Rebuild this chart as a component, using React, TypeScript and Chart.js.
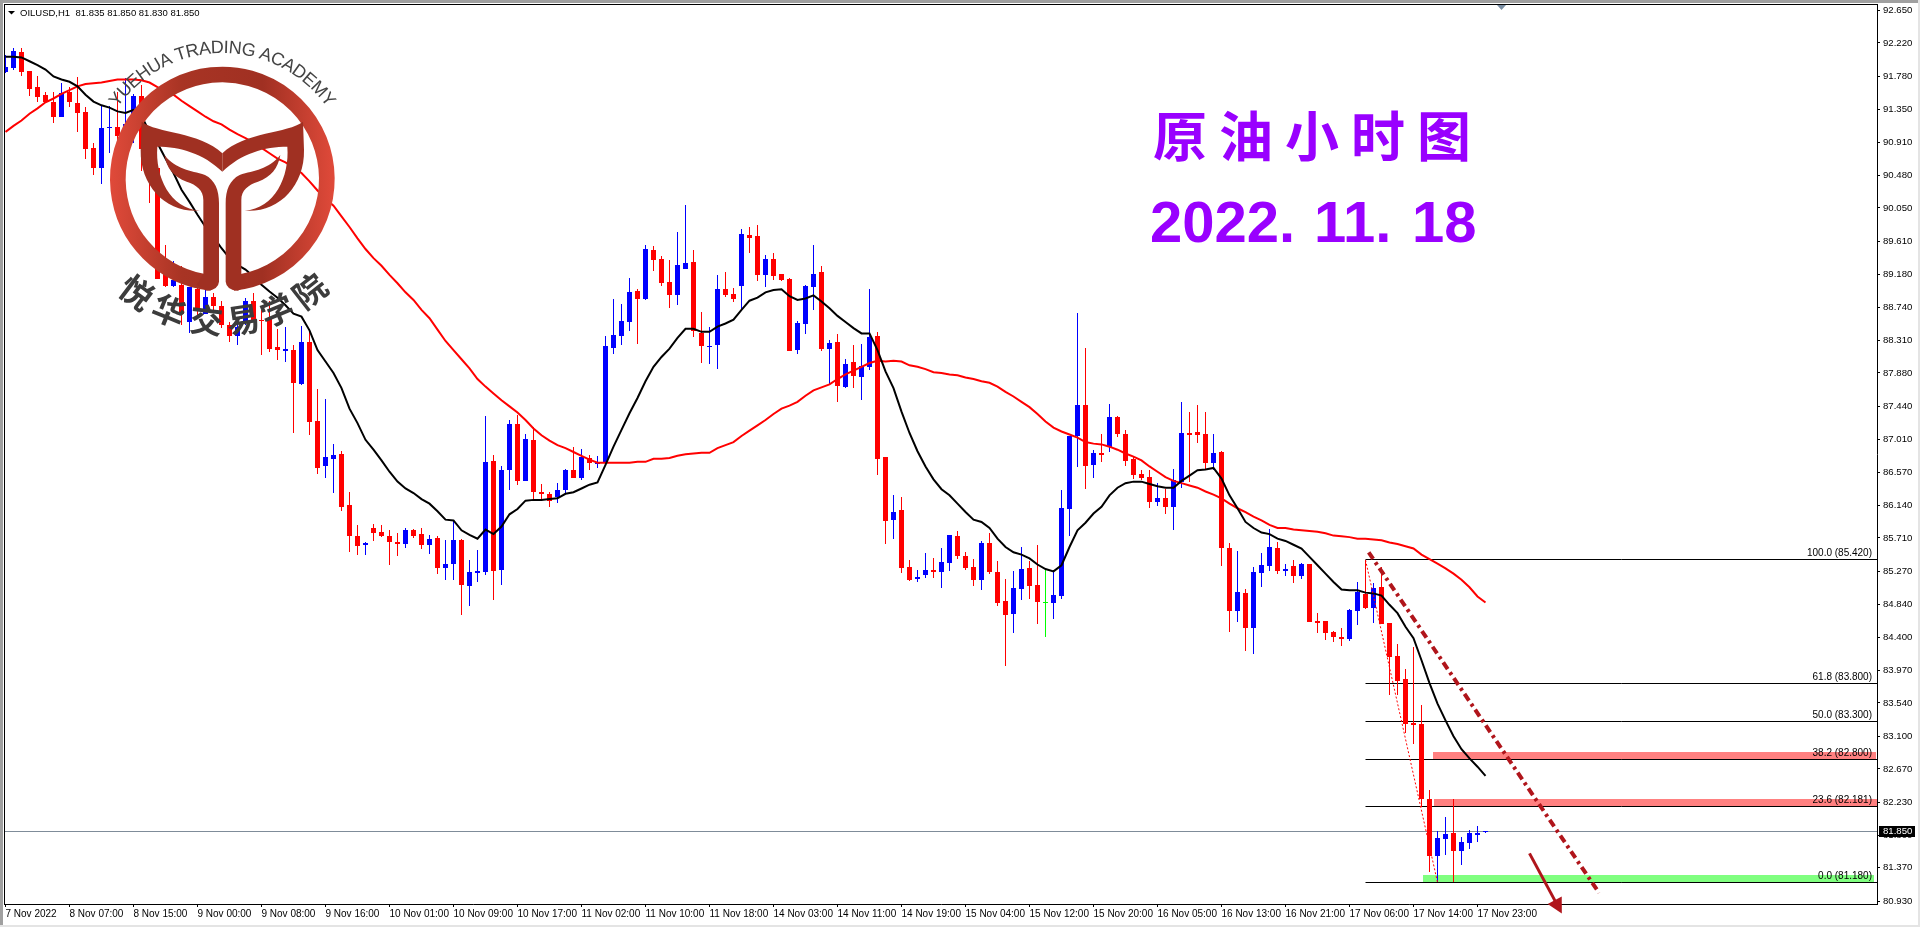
import React, { useEffect, useRef } from "react";
import { Chart, registerables } from "chart.js";

Chart.register(...registerables);

const opens = [
  91.84,91.89,92.10,91.85,91.64,91.54,91.45,91.25,91.57,91.43,
  91.31,90.84,90.58,91.10,91.12,90.92,91.27,91.52,90.83,90.57,
  89.30,89.02,89.04,88.55,88.98,88.66,88.88,88.76,88.51,88.36,
  88.55,88.83,88.58,88.60,88.22,88.17,88.18,87.73,88.29,87.25,
  86.65,86.75,86.81,86.14,85.74,85.61,85.84,85.79,85.74,85.66,
  85.63,85.81,85.76,85.61,85.71,85.31,85.37,85.68,85.08,85.25,
  85.26,86.72,85.29,86.60,87.21,86.46,87.00,86.31,86.29,86.25,
  86.34,86.60,86.50,86.76,86.69,86.70,88.21,88.37,88.55,88.96,
  88.85,89.50,89.38,89.08,88.91,89.25,89.34,88.41,88.23,88.25,
  88.99,88.92,89.02,89.70,89.68,89.17,89.38,89.18,89.12,88.18,
  88.52,89.01,89.21,88.20,88.29,87.70,88.02,87.83,87.96,88.37,
  86.77,85.95,86.08,85.33,85.17,85.22,85.29,85.26,85.38,85.73,
  85.47,85.33,85.16,85.64,85.26,84.88,84.71,85.04,85.31,85.09,
  84.86,84.85,84.95,86.09,87.05,87.46,86.67,86.83,86.91,87.30,
  87.08,86.75,86.55,86.51,86.18,86.23,86.12,86.44,87.09,87.10,
  87.08,86.70,86.84,85.58,84.75,84.99,84.52,85.25,85.34,85.58,
  85.27,85.34,85.21,85.37,84.62,84.62,84.47,84.41,84.38,84.75,
  84.97,84.79,85.06,84.59,84.16,83.85,83.27,83.26,82.28,81.53,
  81.75,81.83,81.59,81.70,81.80,81.835,
];
const highs = [
  92.06,92.15,92.15,91.85,91.79,91.57,91.57,91.69,91.64,91.77,
  91.38,90.91,91.39,91.39,91.57,91.76,91.55,91.67,90.86,90.57,
  89.56,89.35,89.29,89.01,89.01,88.97,88.93,88.82,88.55,88.62,
  88.87,88.93,88.71,88.82,88.46,88.48,88.25,88.50,88.42,87.67,
  87.54,86.94,86.85,86.31,85.88,85.65,85.89,85.88,85.81,85.77,
  85.84,85.83,85.84,85.75,85.74,85.68,85.95,85.70,85.42,85.55,
  87.31,86.80,86.66,87.26,87.33,87.08,87.17,86.42,86.31,86.43,
  86.62,86.91,86.88,86.80,86.79,88.37,88.85,88.79,89.13,88.99,
  89.56,89.55,89.42,89.37,89.73,90.09,89.50,88.68,88.49,89.17,
  89.21,89.00,89.77,89.80,89.83,89.43,89.46,89.18,89.13,88.56,
  89.04,89.56,89.29,88.31,88.39,88.06,88.25,88.26,88.99,88.42,
  86.78,86.27,86.25,85.42,85.29,85.51,85.45,85.58,85.75,85.80,
  85.52,85.43,85.67,85.77,85.41,85.17,85.27,85.59,85.41,85.62,
  85.30,85.29,86.34,87.05,88.67,88.21,86.87,87.08,87.47,87.31,
  87.13,86.79,86.60,86.60,86.43,86.35,86.62,87.50,87.37,87.46,
  87.37,87.08,86.85,85.64,85.54,85.04,85.33,85.51,85.83,85.66,
  85.37,85.42,85.38,85.37,84.72,84.62,84.49,84.52,84.78,85.13,
  85.42,85.12,85.33,84.59,84.32,83.99,84.27,83.51,82.39,81.85,
  82.04,82.28,81.78,81.87,81.92,81.85,
];
const lows = [
  91.83,91.87,91.79,91.52,91.44,91.43,91.17,91.24,91.38,91.05,
  90.70,90.48,90.36,90.77,90.84,90.86,90.90,90.53,90.12,89.12,
  89.01,89.01,88.51,88.40,88.64,88.66,88.71,88.47,88.29,88.25,
  88.51,88.55,88.12,88.16,88.05,88.02,87.09,87.72,87.06,86.55,
  86.50,86.30,86.07,85.53,85.49,85.49,85.67,85.72,85.35,85.47,
  85.58,85.71,85.56,85.50,85.24,85.15,85.15,84.70,84.81,85.13,
  85.22,84.89,85.09,86.34,86.40,86.46,86.21,86.19,86.11,86.17,
  86.30,86.50,86.47,86.60,86.63,86.70,88.13,88.25,88.43,88.26,
  88.84,89.22,89.02,88.74,88.77,89.25,88.35,88.01,88.00,87.93,
  88.88,88.81,88.71,89.46,89.09,89.01,89.10,89.09,88.17,88.13,
  88.39,88.71,88.17,87.74,87.50,87.68,87.68,87.52,87.92,86.54,
  85.63,85.70,85.25,85.14,85.13,85.18,85.18,85.05,85.27,85.43,
  85.29,85.08,85.02,85.24,84.81,84.02,84.46,84.89,84.91,84.58,
  84.41,84.64,84.91,85.73,86.64,86.35,86.50,86.71,86.84,87.04,
  86.66,86.49,86.47,86.10,86.13,86.02,85.81,86.37,86.45,86.96,
  86.60,86.60,85.34,84.47,84.60,84.22,84.18,85.06,85.27,85.23,
  85.21,85.12,85.17,84.60,84.46,84.37,84.34,84.29,84.35,84.56,
  84.77,84.59,84.58,83.64,83.64,83.14,83.00,82.17,81.32,81.18,
  81.54,81.18,81.41,81.62,81.71,81.83,
];
const closes = [
  91.91,92.11,91.84,91.62,91.51,91.45,91.25,91.56,91.44,91.30,
  90.83,90.58,91.10,91.11,91.00,91.15,91.52,90.83,90.57,89.12,
  89.03,89.10,88.66,89.01,88.69,88.88,88.76,88.51,88.36,88.49,
  88.82,88.58,88.56,88.20,88.18,88.19,87.75,88.29,87.24,86.63,
  86.77,86.80,86.12,85.74,85.60,85.64,85.78,85.73,85.65,85.63,
  85.81,85.74,85.61,85.70,85.31,85.37,85.68,85.09,85.26,85.28,
  86.71,85.27,86.60,87.21,86.46,87.01,86.31,86.29,86.19,86.34,
  86.60,86.50,86.78,86.69,86.70,88.23,88.38,88.56,88.95,88.85,
  89.51,89.37,89.06,88.91,89.30,89.33,88.43,88.24,88.24,88.99,
  88.91,88.85,89.71,89.66,89.17,89.38,89.16,89.10,88.17,88.54,
  89.02,89.18,88.20,88.27,87.71,88.00,87.84,87.97,88.35,86.75,
  85.93,86.05,85.31,85.16,85.20,85.29,85.26,85.39,85.75,85.47,
  85.31,85.16,85.64,85.26,84.85,84.70,85.05,85.30,85.08,84.87,
  84.87,84.96,86.10,87.05,87.46,86.66,86.83,86.80,87.30,87.08,
  86.72,86.54,86.50,86.18,86.23,86.12,86.47,87.09,87.06,87.06,
  86.70,86.83,85.58,84.75,85.00,84.52,85.26,85.35,85.59,85.27,
  85.30,85.21,85.37,84.60,84.59,84.46,84.41,84.38,84.76,85.00,
  84.79,85.05,84.58,84.14,83.83,83.26,83.25,82.28,81.53,81.76,
  81.81,81.59,81.71,81.83,81.83,81.85,
];
const fastMA = [
  92.04,92.04,92.03,91.98,91.93,91.87,91.78,91.74,91.71,91.65,
  91.54,91.45,91.40,91.37,91.32,91.30,91.34,91.26,91.05,90.90,
  90.70,90.51,90.29,90.13,89.96,89.80,89.67,89.52,89.39,89.30,
  89.24,89.15,89.04,88.95,88.87,88.77,88.66,88.62,88.44,88.18,
  88.03,87.88,87.68,87.41,87.22,87.00,86.87,86.73,86.58,86.45,
  86.36,86.30,86.22,86.16,86.06,85.95,85.94,85.81,85.75,85.70,
  85.82,85.76,85.86,86.02,86.09,86.20,86.21,86.21,86.22,86.23,
  86.29,86.31,86.36,86.41,86.44,86.67,86.91,87.13,87.35,87.55,
  87.77,87.96,88.09,88.20,88.34,88.46,88.46,88.42,88.42,88.49,
  88.53,88.58,88.71,88.83,88.87,88.94,88.97,88.98,88.89,88.84,
  88.86,88.90,88.82,88.73,88.63,88.55,88.47,88.40,88.40,88.18,
  87.90,87.68,87.37,87.09,86.85,86.65,86.48,86.35,86.27,86.16,
  86.05,85.95,85.92,85.84,85.70,85.59,85.52,85.49,85.44,85.36,
  85.30,85.27,85.35,85.59,85.81,85.91,86.03,86.12,86.27,86.37,
  86.43,86.45,86.45,86.42,86.39,86.37,86.37,86.46,86.53,86.60,
  86.61,86.63,86.49,86.27,86.10,85.92,85.84,85.78,85.76,85.70,
  85.67,85.62,85.57,85.46,85.35,85.24,85.13,85.03,85.02,85.02,
  84.99,84.98,84.95,84.83,84.72,84.54,84.39,84.10,83.80,83.53,
  83.31,83.10,82.93,82.81,82.70,82.58,
];
const slowMA = [
  91.05,91.13,91.20,91.29,91.36,91.44,91.49,91.55,91.60,91.65,
  91.68,91.69,91.70,91.72,91.74,91.74,91.74,91.73,91.70,91.64,
  91.59,91.54,91.46,91.39,91.32,91.25,91.19,91.15,91.08,91.02,
  90.97,90.91,90.84,90.77,90.70,90.65,90.58,90.51,90.40,90.28,
  90.17,90.08,89.94,89.80,89.65,89.51,89.39,89.29,89.17,89.06,
  88.94,88.84,88.71,88.60,88.45,88.30,88.18,88.06,87.94,87.80,
  87.70,87.61,87.52,87.44,87.36,87.26,87.15,87.06,86.99,86.93,
  86.89,86.84,86.79,86.74,86.70,86.70,86.70,86.70,86.70,86.71,
  86.71,86.75,86.75,86.76,86.79,86.81,86.82,86.83,86.83,86.89,
  86.93,86.97,87.05,87.12,87.19,87.26,87.34,87.41,87.45,87.50,
  87.58,87.65,87.69,87.73,87.80,87.86,87.91,87.96,88.01,88.04,
  88.03,88.04,88.03,87.98,87.96,87.93,87.89,87.88,87.86,87.85,
  87.82,87.80,87.77,87.75,87.70,87.63,87.57,87.50,87.43,87.34,
  87.24,87.16,87.11,87.07,87.03,86.97,86.95,86.94,86.91,86.87,
  86.82,86.78,86.73,86.65,86.58,86.51,86.46,86.43,86.40,86.37,
  86.32,86.28,86.23,86.16,86.10,86.05,85.99,85.94,85.88,85.84,
  85.84,85.82,85.81,85.80,85.79,85.77,85.74,85.73,85.72,85.70,
  85.70,85.69,85.68,85.65,85.63,85.60,85.57,85.49,85.43,85.37,
  85.31,85.24,85.16,85.06,84.94,84.86,
];
const greenBars = [130];

const timeLabels = [
  "7 Nov 2022","8 Nov 07:00","8 Nov 15:00","9 Nov 00:00","9 Nov 08:00","9 Nov 16:00",
  "10 Nov 01:00","10 Nov 09:00","10 Nov 17:00","11 Nov 02:00","11 Nov 10:00","11 Nov 18:00",
  "14 Nov 03:00","14 Nov 11:00","14 Nov 19:00","15 Nov 04:00","15 Nov 12:00","15 Nov 20:00",
  "16 Nov 05:00","16 Nov 13:00","16 Nov 21:00","17 Nov 06:00","17 Nov 14:00","17 Nov 23:00",
];
const priceTicks = [
  92.65,92.22,91.78,91.35,90.91,90.48,90.05,89.61,89.18,88.74,88.31,87.88,87.44,87.01,
  86.57,86.14,85.71,85.27,84.84,84.40,83.97,83.54,83.10,82.67,82.23,81.80,81.37,80.93,
];
const fibPercents = ["100.0","61.8","50.0","38.2","23.6","0.0"];
const fibPrices = [85.42,83.8,83.3,82.8,82.181,81.18];
const fibStartBar = 170;
const lastPrice = 81.85;

const dottedTrendBars = [170,179];
const dottedTrendPrices = [85.42,81.18];
const channelBars = [170.4,199.2];
const channelPrices = [85.52,81.04];
const arrowBars = [190.5,194.54];
const arrowPrices = [81.56,80.77];

const zoneStartBars = [178.46,178.58,177.2];
const zoneEndBars = [233.8,233.94,233.56];
const zoneTopPrices = [82.9,82.28,81.28];
const zoneBottomPrices = [82.79,82.18,81.17];
const zoneColors = ["#ff8080","#ff8080","#80ff80"];

const header = "OILUSD,H1  81.835 81.850 81.830 81.850";
const titleCn = "原油小时图";
const titleDateParts = ["2022.","11.","18"];
const logoEn = "YUEHUA TRADING ACADEMY";
const logoCn = ["悦","华","交","易","学","院"];
const logoCnAngles = [37,22,6.5,-8.5,-22.5,-38];

const BLUE = "#0000ff", RED = "#ff0000", GREEN = "#00ff00", FIRE = "#b0151b";
const UI_FONT = '"Liberation Sans", Arial, sans-serif';

const barColor = (i: number) =>
  greenBars.includes(i) ? GREEN : closes[i] >= opens[i] ? BLUE : RED;

function drawLogo(ctx: CanvasRenderingContext2D) {
  ctx.save();
  ctx.scale(1 / 3, 1 / 3);
  const cx = 667, cy = 537;
  const g = ctx.createLinearGradient(330, 0, 1004, 0);
  g.addColorStop(0, "#e04a3a");
  g.addColorStop(0.32, "#a83424");
  g.addColorStop(0.68, "#a03022");
  g.addColorStop(1, "#e04a3a");
  ctx.strokeStyle = g;
  ctx.fillStyle = g;
  ctx.lineWidth = 47;
  ctx.beginPath();
  ctx.arc(cx, cy, 313.5, (84 * Math.PI) / 180, (96 * Math.PI) / 180, true);
  ctx.stroke();
  const half = () => {
    ctx.beginPath();
    ctx.moveTo(425, 365);
    ctx.bezierCurveTo(470, 400, 600, 395, 667, 460);
    ctx.lineTo(667, 515);
    ctx.bezierCurveTo(610, 460, 540, 440, 472, 440);
    ctx.bezierCurveTo(465, 530, 510, 625, 600, 632);
    ctx.bezierCurveTo(500, 640, 420, 560, 422, 450);
    ctx.closePath();
    ctx.fill();
    ctx.beginPath();
    ctx.moveTo(493, 465);
    ctx.bezierCurveTo(530, 510, 570, 510, 615, 525);
    ctx.bezierCurveTo(645, 540, 657, 570, 657, 610);
    ctx.lineTo(657, 845);
    ctx.quadraticCurveTo(655, 870, 620, 872);
    ctx.lineTo(590, 855);
    ctx.lineTo(610, 822);
    ctx.lineTo(610, 600);
    ctx.bezierCurveTo(610, 570, 590, 555, 560, 545);
    ctx.bezierCurveTo(520, 530, 500, 505, 493, 465);
    ctx.closePath();
    ctx.fill();
  };
  ctx.fillStyle = "#a03022";
  half();
  ctx.save();
  ctx.translate(2 * cx, 0);
  ctx.scale(-1, 1);
  half();
  ctx.restore();
  ctx.restore();

  ctx.save();
  const c0x = 222.3, c0y = 181;
  ctx.fillStyle = "#444444";
  ctx.font = `18px ${UI_FONT}`;
  ctx.textAlign = "center";
  ctx.textBaseline = "alphabetic";
  const widths = [...logoEn].map((ch) => ctx.measureText(ch).width);
  const total = widths.reduce((a, b) => a + b, 0);
  const arcSpan = (110 * Math.PI) / 180;
  const radius = 128;
  const extra = (arcSpan * radius - total) / (logoEn.length - 1);
  let run = -(arcSpan * radius) / 2;
  [...logoEn].forEach((ch, k) => {
    const a = (run + widths[k] / 2) / radius;
    ctx.save();
    ctx.translate(c0x + radius * Math.sin(a), c0y - radius * Math.cos(a));
    ctx.rotate(a);
    ctx.fillText(ch, 0, 0);
    ctx.restore();
    run += widths[k] + extra;
  });
  ctx.font = 'bold 33px "Noto Sans CJK SC", sans-serif';
  ctx.textBaseline = "middle";
  ctx.fillStyle = "#3c3c3c";
  logoCn.forEach((ch, k) => {
    const a = (logoCnAngles[k] * Math.PI) / 180;
    ctx.save();
    ctx.translate(222.3 - 142 * Math.sin(a), 179 + 142 * Math.cos(a));
    ctx.rotate(a);
    ctx.fillText(ch, 0, 0);
    ctx.restore();
  });
  ctx.restore();
}

const decorPlugin = {
  id: "decor",
  beforeDatasetsDraw(chart: any) {
    const { ctx, scales } = chart;
    const { x, y } = scales;
    // zones
    zoneColors.forEach((col, k) => {
      const l = Math.round(x.getPixelForValue(zoneStartBars[k]));
      const r = Math.round(x.getPixelForValue(zoneEndBars[k]));
      const t = Math.round(y.getPixelForValue(zoneTopPrices[k]));
      const b = Math.round(y.getPixelForValue(zoneBottomPrices[k]));
      ctx.fillStyle = col;
      ctx.fillRect(l, t, r - l, b - t);
    });
    // pixel-snap marks, as the terminal draws them
    chart.data.datasets.forEach((ds: any, di: number) => {
      const meta = chart.getDatasetMeta(di);
      if (ds.snapLine) {
        meta.data.forEach((pt: any) => {
          pt.y = Math.floor(pt.y) + 0.5;
        });
      } else if (ds.type !== "line") {
        meta.data.forEach((el: any) => {
          const top = Math.round(Math.min(el.y, el.base));
          let bot = Math.round(Math.max(el.y, el.base));
          if (bot <= top) bot = top + 1;
          el.y = top;
          el.base = bot;
          el.height = bot - top;
        });
      }
    });
  },
  afterDraw(chart: any) {
    const { ctx, scales } = chart;
    const { x, y } = scales;
    const W = chart.width, H = chart.height;
    ctx.save();
    // window frame
    ctx.fillStyle = "#a0a0a0";
    ctx.fillRect(0, 0, W, 3);
    ctx.fillRect(0, 0, 3, H);
    ctx.fillStyle = "#e4e4e4";
    ctx.fillRect(0, H - 2, W, 2);
    ctx.fillRect(W - 2, 0, 2, H);
    ctx.fillStyle = "#000";
    ctx.fillRect(4, 4, 1874, 1);
    ctx.fillRect(4, 4, 1, 901);
    // header
    ctx.beginPath();
    ctx.moveTo(8, 11);
    ctx.lineTo(15, 11);
    ctx.lineTo(11.5, 14.5);
    ctx.closePath();
    ctx.fill();
    ctx.font = `9.5px ${UI_FONT}`;
    ctx.textAlign = "left";
    ctx.textBaseline = "alphabetic";
    ctx.fillText(header, 20, 16);
    // scroll marker
    ctx.fillStyle = "#7a8ea3";
    ctx.beginPath();
    ctx.moveTo(1497, 5);
    ctx.lineTo(1506, 5);
    ctx.lineTo(1501.5, 10);
    ctx.closePath();
    ctx.fill();
    // fib labels
    ctx.fillStyle = "#000";
    ctx.font = `10px ${UI_FONT}`;
    ctx.textAlign = "right";
    ctx.textBaseline = "middle";
    fibPrices.forEach((p, k) => {
      const txt = `${fibPercents[k]} (${p.toFixed(3)})`;
      ctx.fillText(txt, 1872, Math.floor(y.getPixelForValue(p)) - 6);
    });
    // last price box
    const ly = y.getPixelForValue(lastPrice);
    ctx.fillStyle = "#000";
    ctx.fillRect(1879, Math.round(ly) - 5, 36, 11);
    ctx.fillStyle = "#fff";
    ctx.font = `9.6px ${UI_FONT}`;
    ctx.textAlign = "left";
    ctx.fillText(lastPrice.toFixed(3), 1883, Math.round(ly) + 0.5);
    // arrow
    const ax0 = x.getPixelForValue(arrowBars[0]), ay0 = y.getPixelForValue(arrowPrices[0]);
    const ax1 = x.getPixelForValue(arrowBars[1]), ay1 = y.getPixelForValue(arrowPrices[1]);
    const ang = Math.atan2(ay1 - ay0, ax1 - ax0);
    ctx.strokeStyle = FIRE;
    ctx.fillStyle = FIRE;
    ctx.lineWidth = 3;
    ctx.beginPath();
    ctx.moveTo(ax0, ay0);
    ctx.lineTo(ax1 - 10 * Math.cos(ang), ay1 - 10 * Math.sin(ang));
    ctx.stroke();
    ctx.beginPath();
    ctx.moveTo(ax1, ay1);
    ctx.lineTo(ax1 - 15 * Math.cos(ang) + 8 * Math.sin(ang), ay1 - 15 * Math.sin(ang) - 8 * Math.cos(ang));
    ctx.lineTo(ax1 - 15 * Math.cos(ang) - 8 * Math.sin(ang), ay1 - 15 * Math.sin(ang) + 8 * Math.cos(ang));
    ctx.closePath();
    ctx.fill();
    // title
    ctx.fillStyle = "#9900ff";
    ctx.textAlign = "left";
    ctx.textBaseline = "alphabetic";
    ctx.font = 'bold 54px "Noto Sans CJK SC", sans-serif';
    (ctx as any).letterSpacing = "12px";
    ctx.fillText(titleCn, 1153, 157);
    (ctx as any).letterSpacing = "0px";
    ctx.font = `bold 58px ${UI_FONT}`;
    ctx.fillText(titleDateParts[0], 1150, 242);
    ctx.fillText(titleDateParts[1], 1314, 242);
    ctx.fillText(titleDateParts[2], 1412, 242);
    ctx.restore();
    drawLogo(ctx);
  },
};

export default function App() {
  const ref = useRef<HTMLCanvasElement | null>(null);
  useEffect(() => {
    document.body.style.margin = "0";
    if (!ref.current) return;
    const xyFrom = (xs: number[], ys: number[]) => xs.map((v, k) => ({ x: v, y: ys[k] }));
    const XMIN = -0.0625, XMAX = 233.9375;
    const datasets: any[] = [
      {
        type: "bar",
        label: "wick",
        order: 6,
        grouped: false,
        barThickness: 1,
        inflateAmount: 0,
        borderWidth: 0,
        backgroundColor: highs.map((_, i) => barColor(i)),
        data: highs.map((h, i) => ({ x: i, y: [lows[i], h] })),
      },
      {
        type: "bar",
        label: "body",
        order: 5,
        grouped: false,
        barThickness: 5,
        inflateAmount: 0,
        borderWidth: 0,
        backgroundColor: opens.map((_, i) => barColor(i)),
        data: opens.map((o, i) => ({ x: i, y: [o, closes[i]] })),
      },
      {
        type: "line",
        label: "MA fast",
        order: 2,
        borderColor: "#000000",
        borderWidth: 2,
        pointRadius: 0,
        data: fastMA.map((v, i) => ({ x: i, y: v })),
      },
      {
        type: "line",
        label: "MA slow",
        order: 3,
        borderColor: RED,
        borderWidth: 2,
        pointRadius: 0,
        data: slowMA.map((v, i) => ({ x: i, y: v })),
      },
      {
        type: "line",
        label: "Last",
        order: 9,
        snapLine: true,
        borderColor: "#7f8c99",
        borderWidth: 1,
        pointRadius: 0,
        data: [{ x: XMIN, y: lastPrice }, { x: XMAX, y: lastPrice }],
      },
      ...fibPrices.map((p, k) => ({
        type: "line",
        label: `Fib ${fibPercents[k]}`,
        order: 8,
        snapLine: true,
        borderColor: "#000000",
        borderWidth: 1,
        pointRadius: 0,
        data: [{ x: fibStartBar, y: p }, { x: XMAX, y: p }],
      })),
      {
        type: "line",
        label: "Fib trend",
        order: 1,
        borderColor: RED,
        borderWidth: 1,
        borderDash: [2, 2],
        pointRadius: 0,
        data: xyFrom(dottedTrendBars, dottedTrendPrices),
      },
      {
        type: "line",
        label: "Channel",
        order: 0,
        borderColor: FIRE,
        borderWidth: 4,
        borderDash: [8, 4, 3, 4],
        pointRadius: 0,
        data: xyFrom(channelBars, channelPrices),
      },
    ];
    const chart = new Chart(ref.current, {
      type: "bar",
      data: { datasets },
      plugins: [decorPlugin],
      options: {
        animation: false,
        responsive: false,
        devicePixelRatio: 1,
        events: [],
        layout: { padding: { left: 5, top: 4, right: 0, bottom: 0 } },
        plugins: { legend: { display: false }, tooltip: { enabled: false }, title: { display: false } },
        scales: {
          x: {
            type: "linear",
            offset: false,
            min: XMIN,
            max: XMAX,
            grid: { offset: false, drawOnChartArea: false, tickLength: 3, tickColor: "#000", drawTicks: true },
            border: { display: true, color: "#000", width: 1 },
            afterBuildTicks: (s: any) => {
              s.ticks = timeLabels.map((_, k) => ({ value: k * 8 }));
            },
            afterFit: (s: any) => {
              s.height = 23;
              s.paddingLeft = 0;
              s.paddingRight = 0;
            },
            ticks: {
              autoSkip: false,
              maxRotation: 0,
              minRotation: 0,
              align: "start",
              padding: 1,
              color: "#000",
              font: { family: UI_FONT, size: 10 },
              callback: (_v: any, idx: number) => timeLabels[idx],
            },
          },
          y: {
            type: "linear",
            position: "right",
            min: 80.894,
            max: 92.733,
            grid: { drawOnChartArea: false, tickLength: 3, tickColor: "#000" },
            border: { display: true, color: "#000", width: 1 },
            afterBuildTicks: (s: any) => {
              s.ticks = priceTicks.map((v) => ({ value: v }));
            },
            afterFit: (s: any) => {
              s.width = 43;
              s.paddingTop = 0;
              s.paddingBottom = 0;
            },
            ticks: {
              autoSkip: false,
              padding: 3,
              color: "#000",
              font: { family: UI_FONT, size: 9.6 },
              callback: (v: any) => Number(v).toFixed(3),
            },
          },
        },
      } as any,
    } as any);
    return () => chart.destroy();
  }, []);
  return (
    <div style={{ position: "fixed", left: 0, top: 0, width: 1920, height: 927, background: "#fff" }}>
      <canvas ref={ref} width={1920} height={927} style={{ display: "block" }} />
    </div>
  );
}
